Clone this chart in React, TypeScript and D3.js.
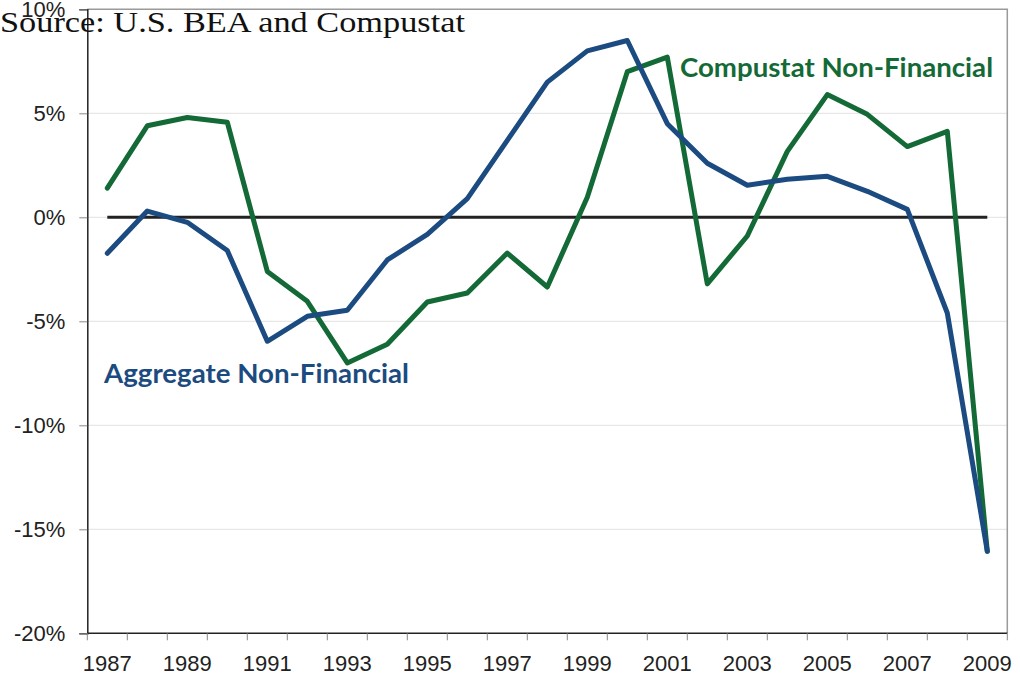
import React, { useEffect, useRef } from "react";
import * as d3 from "d3";

// years on the x axis
const YEARS = [
  1987, 1988, 1989, 1990, 1991, 1992, 1993, 1994, 1995, 1996, 1997, 1998,
  1999, 2000, 2001, 2002, 2003, 2004, 2005, 2006, 2007, 2008, 2009,
];
// Aggregate Non-Financial (BEA), percent
const AGGREGATE = [
  -1.73, 0.3, -0.24, -1.6, -5.96, -4.76, -4.47, -2.05, -0.82, 0.9, 3.7, 6.5,
  8.0, 8.5, 4.5, 2.6, 1.54, 1.83, 1.97, 1.25, 0.38, -4.6, -16.06,
];
// Compustat Non-Financial, percent
const COMPUSTAT = [
  1.4, 4.4, 4.8, 4.57, -2.6, -4.04, -7.0, -6.1, -4.07, -3.64, -1.72, -3.35,
  0.96, 7.0, 7.7, -3.2, -0.9, 3.17, 5.9, 4.95, 3.4, 4.13, -16.06,
];
const Y_TICKS = [10, 5, 0, -5, -10, -15, -20];
const X_LABELS = [1987, 1989, 1991, 1993, 1995, 1997, 1999, 2001, 2003, 2005, 2007, 2009];

const WIDTH = 1020;
const HEIGHT = 677;
const MARGIN = { top: 9.3, right: 13, bottom: 44, left: 87.3 };
const INNER_WIDTH = WIDTH - 8 - MARGIN.left - MARGIN.right + 8;
const INNER_HEIGHT = 633.3 - MARGIN.top;
const BLUE = "#1b4b80";
const GREEN = "#146a36";

export default function App() {
  const ref = useRef<SVGSVGElement | null>(null);

  useEffect(() => {
    const svg = d3.select(ref.current);
    svg.selectAll("*").remove();

    const x = d3
      .scaleBand<number>()
      .domain(YEARS)
      .range([MARGIN.left, MARGIN.left + 920])
      .paddingInner(0)
      .paddingOuter(0);
    const y = d3
      .scaleLinear()
      .domain([-20, 10])
      .range([MARGIN.top + INNER_HEIGHT, MARGIN.top]);
    const cx = (d: number) => (x(d) as number) + x.bandwidth() / 2;
    const x0 = MARGIN.left;
    const x1 = MARGIN.left + 920;

    // grid
    svg
      .append("g")
      .selectAll("line")
      .data(Y_TICKS.filter((t) => t !== 10 && t !== -20))
      .join("line")
      .attr("x1", x0)
      .attr("x2", x1)
      .attr("y1", (d) => y(d))
      .attr("y2", (d) => y(d))
      .attr("stroke", "#e2e2e2")
      .attr("stroke-width", 1);

    // frame: top + right gray
    svg
      .append("path")
      .attr("d", `M${x0},${y(10)}H${x1}V${y(-20)}`)
      .attr("fill", "none")
      .attr("stroke", "#9a9a9a")
      .attr("stroke-width", 1.5);

    // y axis
    const yAxis = svg.append("g").attr("transform", `translate(${x0},0)`);
    yAxis
      .call(
        d3
          .axisLeft(y)
          .tickValues(Y_TICKS)
          .tickSize(8)
          .tickPadding(14)
          .tickFormat((d) => `${d}%`)
      )
      .call((g) => g.select(".domain").attr("stroke", "#222").attr("stroke-width", 1.5))
      .call((g) => g.selectAll(".tick line").attr("stroke", "#888"))
      .call((g) =>
        g
          .selectAll(".tick text")
          .attr("font-family", "Liberation Sans, Arial, sans-serif")
          .attr("font-size", 22)
          .attr("fill", "#222")
      );

    // x axis with ticks at band boundaries
    const xAxis = svg.append("g").attr("transform", `translate(0,${y(-20)})`);
    xAxis
      .append("line")
      .attr("x1", x0)
      .attr("x2", x1)
      .attr("stroke", "#222")
      .attr("stroke-width", 1.5);
    xAxis
      .selectAll("line.tk")
      .data(d3.range(YEARS.length + 1))
      .join("line")
      .attr("class", "tk")
      .attr("x1", (i) => x0 + i * x.bandwidth())
      .attr("x2", (i) => x0 + i * x.bandwidth())
      .attr("y1", 0)
      .attr("y2", 7)
      .attr("stroke", "#888");
    xAxis
      .selectAll("text")
      .data(X_LABELS)
      .join("text")
      .attr("x", (d) => cx(d))
      .attr("y", 38)
      .attr("text-anchor", "middle")
      .attr("font-family", "Liberation Sans, Arial, sans-serif")
      .attr("font-size", 22)
      .attr("fill", "#222")
      .text((d) => d);

    // zero line
    svg
      .append("line")
      .attr("x1", cx(YEARS[0]))
      .attr("x2", cx(YEARS[YEARS.length - 1]))
      .attr("y1", y(0))
      .attr("y2", y(0))
      .attr("stroke", "#222")
      .attr("stroke-width", 3);

    const line = d3
      .line<number>()
      .x((_, i) => cx(YEARS[i]))
      .y((d) => y(d));

    svg
      .append("path")
      .attr("d", line(COMPUSTAT))
      .attr("fill", "none")
      .attr("stroke", GREEN)
      .attr("stroke-width", 5)
      .attr("stroke-linejoin", "round")
      .attr("stroke-linecap", "round");
    svg
      .append("path")
      .attr("d", line(AGGREGATE))
      .attr("fill", "none")
      .attr("stroke", BLUE)
      .attr("stroke-width", 5)
      .attr("stroke-linejoin", "round")
      .attr("stroke-linecap", "round");

    // series labels
    svg
      .append("text")
      .attr("x", 680)
      .attr("y", 77)
      .attr("font-family", "Lato, 'Open Sans', sans-serif")
      .attr("font-weight", "bold")
      .attr("font-size", 26)
      .attr("fill", GREEN)
      .attr("textLength", 313)
      .attr("lengthAdjust", "spacingAndGlyphs")
      .text("Compustat Non-Financial");
    svg
      .append("text")
      .attr("x", 104)
      .attr("y", 383)
      .attr("font-family", "Lato, 'Open Sans', sans-serif")
      .attr("font-weight", "bold")
      .attr("font-size", 26)
      .attr("fill", BLUE)
      .attr("textLength", 305)
      .attr("lengthAdjust", "spacingAndGlyphs")
      .text("Aggregate Non-Financial");

    // source note (overlaps the top tick label, as in the original)
    svg
      .append("text")
      .attr("x", 0)
      .attr("y", 32)
      .attr("font-family", "'Liberation Serif', 'DejaVu Serif', serif")
      .attr("font-size", 29)
      .attr("fill", "#111")
      .attr("textLength", 465)
      .attr("lengthAdjust", "spacingAndGlyphs")
      .text("Source: U.S. BEA and Compustat");
  }, []);

  return (
    <svg
      ref={ref}
      width={WIDTH}
      height={HEIGHT}
      style={{ position: "absolute", left: 0, top: 0, background: "#fff" }}
    />
  );
}
